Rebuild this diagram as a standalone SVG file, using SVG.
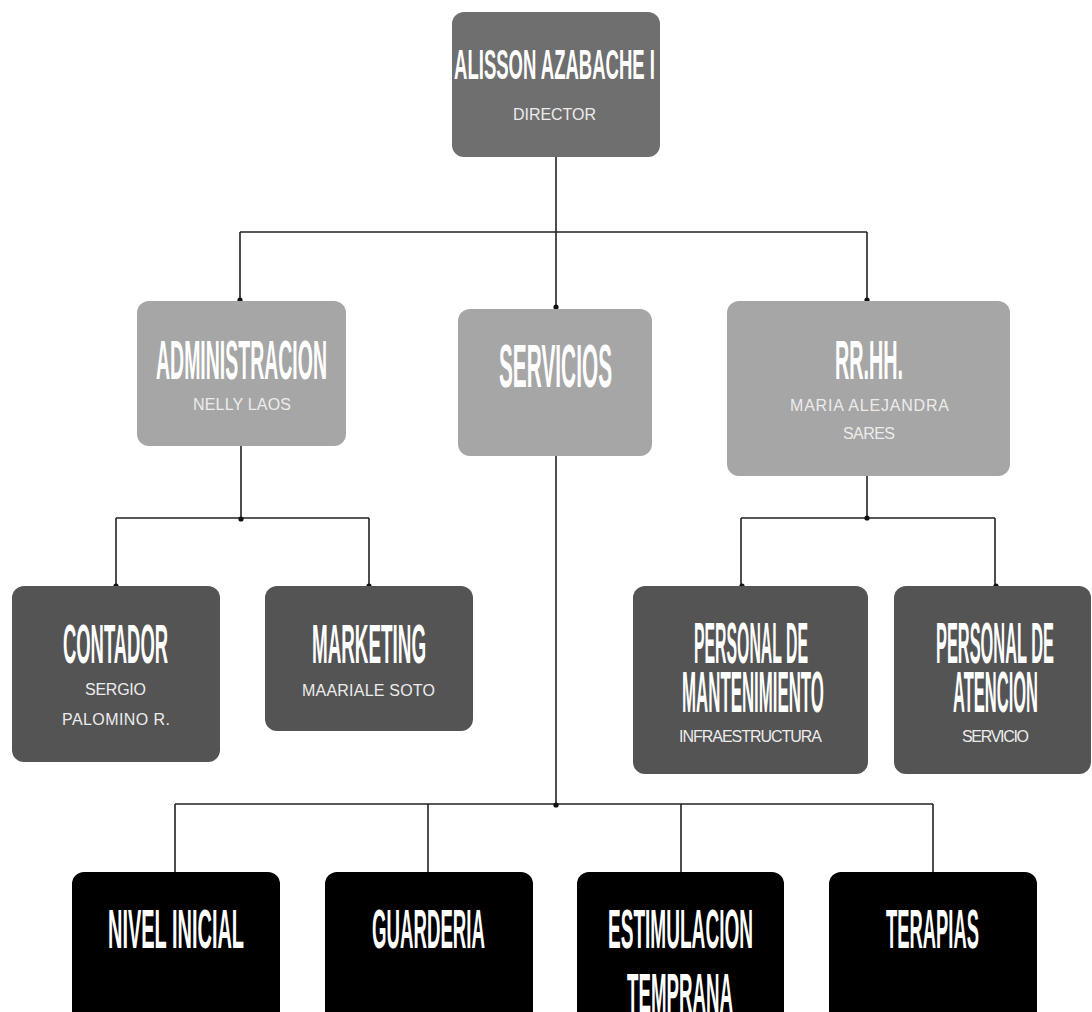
<svg xmlns="http://www.w3.org/2000/svg" width="1092" height="1012" viewBox="0 0 1092 1012">
<style>
.t{font-family:"Liberation Sans Narrow","Liberation Sans","DejaVu Sans Condensed",sans-serif;font-weight:bold;fill:#ffffff;text-anchor:middle}
.s{font-family:"Liberation Sans","DejaVu Sans",sans-serif;font-size:16px;fill:#ececec;text-anchor:middle}
.c{fill:none;stroke:#222;stroke-width:1.6}
.d{fill:#111}
.gray{fill:#6f6f6f}
.light{fill:#a6a6a6}
.dark{fill:#545454}
.black{fill:#000}
</style>
<rect width="1092" height="1012" fill="#ffffff"/>
<g id="connectors">
<path class="c" d="M556 157V232M240 232H867M240 232V300M556 232V308M867 232V300"/>
<path class="c" d="M241 446V518M116 518H369M116 518V586M369 518V586"/>
<path class="c" d="M867 448V518M741 518H995M741 518V586M995 518V586"/>
<path class="c" d="M556 447V804M175 804H933M175 804V872M428 804V872M681 804V872M933 804V872"/>
<circle class="d" cx="240" cy="300" r="2.6"/>
<circle class="d" cx="556" cy="307" r="2.6"/>
<circle class="d" cx="867" cy="300" r="2.6"/>
<circle class="d" cx="241" cy="519" r="2.6"/>
<circle class="d" cx="867" cy="518" r="2.6"/>
<circle class="d" cx="116" cy="586" r="2.6"/>
<circle class="d" cx="369" cy="586" r="2.6"/>
<circle class="d" cx="742" cy="586" r="2.6"/>
<circle class="d" cx="996" cy="586" r="2.6"/>
<circle class="d" cx="556" cy="805" r="2.6"/>
</g>
<g id="director">
<rect class="gray" x="452" y="12" width="208" height="145" rx="12"/>
<text class="t" transform="translate(554.5 79) scale(0.36 1)" font-size="43" textLength="558" lengthAdjust="spacingAndGlyphs">ALISSON AZABACHE I</text>
<text class="s" x="554.5" y="120" textLength="83" lengthAdjust="spacing">DIRECTOR</text>
</g>
<g id="administracion">
<rect class="light" x="137" y="301" width="209" height="145" rx="12"/>
<text class="t" transform="translate(241.5 379) scale(0.36 1)" font-size="56" textLength="475" lengthAdjust="spacingAndGlyphs">ADMINISTRACION</text>
<text class="s" x="242" y="410" textLength="98" lengthAdjust="spacing">NELLY LAOS</text>
</g>
<g id="servicios">
<rect class="light" x="458" y="309" width="194" height="147" rx="12"/>
<text class="t" transform="translate(555.5 387) scale(0.36 1)" font-size="62" textLength="314" lengthAdjust="spacingAndGlyphs">SERVICIOS</text>
</g>
<g id="rrhh">
<rect class="light" x="727" y="301" width="283" height="175" rx="12"/>
<text class="t" transform="translate(869 379) scale(0.36 1)" font-size="56" textLength="189" lengthAdjust="spacingAndGlyphs">RR.HH.</text>
<text class="s" x="869.5" y="411" textLength="159" lengthAdjust="spacing">MARIA ALEJANDRA</text>
<text class="s" x="869" y="439" textLength="52" lengthAdjust="spacing">SARES</text>
</g>
<g id="contador">
<rect class="dark" x="12" y="586" width="208" height="176" rx="12"/>
<text class="t" transform="translate(115.5 663) scale(0.36 1)" font-size="56" textLength="292" lengthAdjust="spacingAndGlyphs">CONTADOR</text>
<text class="s" x="115.5" y="695" textLength="61" lengthAdjust="spacing">SERGIO</text>
<text class="s" x="116" y="725" textLength="108" lengthAdjust="spacing">PALOMINO R.</text>
</g>
<g id="marketing">
<rect class="dark" x="265" y="586" width="208" height="145" rx="12"/>
<text class="t" transform="translate(369 663) scale(0.36 1)" font-size="56" textLength="317" lengthAdjust="spacingAndGlyphs">MARKETING</text>
<text class="s" x="368.5" y="696" textLength="133" lengthAdjust="spacing">MAARIALE SOTO</text>
</g>
<g id="mantenimiento">
<rect class="dark" x="633" y="586" width="235" height="188" rx="12"/>
<text class="t" transform="translate(751 663) scale(0.36 1)" font-size="58" textLength="317" lengthAdjust="spacingAndGlyphs">PERSONAL DE</text>
<text class="t" transform="translate(753 712) scale(0.36 1)" font-size="58" textLength="394" lengthAdjust="spacingAndGlyphs">MANTENIMIENTO</text>
<text class="s" x="750.5" y="742" textLength="143" lengthAdjust="spacing">INFRAESTRUCTURA</text>
</g>
<g id="atencion">
<rect class="dark" x="894" y="586" width="197" height="188" rx="12"/>
<text class="t" transform="translate(995 663) scale(0.36 1)" font-size="58" textLength="328" lengthAdjust="spacingAndGlyphs">PERSONAL DE</text>
<text class="t" transform="translate(995.5 712) scale(0.36 1)" font-size="58" textLength="236" lengthAdjust="spacingAndGlyphs">ATENCION</text>
<text class="s" x="995.5" y="742" textLength="67" lengthAdjust="spacing">SERVICIO</text>
</g>
<g id="nivel-inicial">
<rect class="black" x="72" y="872" width="208" height="160" rx="12"/>
<text class="t" transform="translate(176 948) scale(0.36 1)" font-size="56" textLength="378" lengthAdjust="spacingAndGlyphs">NIVEL INICIAL</text>
</g>
<g id="guarderia">
<rect class="black" x="325" y="872" width="208" height="160" rx="12"/>
<text class="t" transform="translate(428.5 948) scale(0.36 1)" font-size="56" textLength="314" lengthAdjust="spacingAndGlyphs">GUARDERIA</text>
</g>
<g id="estimulacion">
<rect class="black" x="577" y="872" width="207" height="160" rx="12"/>
<text class="t" transform="translate(680.5 948) scale(0.36 1)" font-size="56" textLength="403" lengthAdjust="spacingAndGlyphs">ESTIMULACION</text>
<text class="t" transform="translate(680 1012) scale(0.36 1)" font-size="56" textLength="294" lengthAdjust="spacingAndGlyphs">TEMPRANA</text>
</g>
<g id="terapias">
<rect class="black" x="829" y="872" width="208" height="160" rx="12"/>
<text class="t" transform="translate(932.5 948) scale(0.36 1)" font-size="56" textLength="258" lengthAdjust="spacingAndGlyphs">TERAPIAS</text>
</g>
</svg>
